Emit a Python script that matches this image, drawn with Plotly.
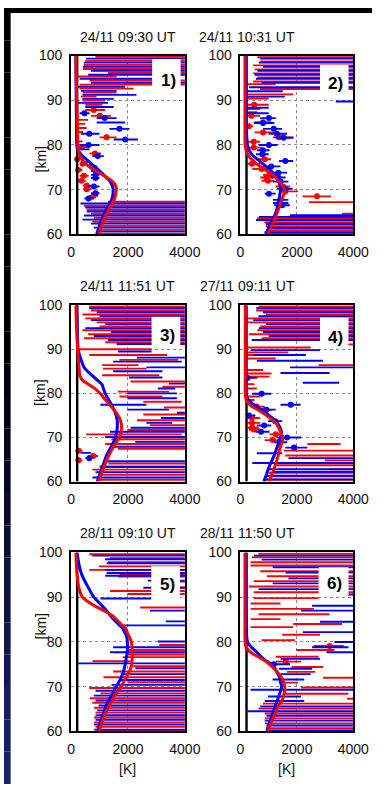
import plotly.graph_objects as go

# ---------------- data ----------------
TITLES = ["24/11 09:30 UT", "24/11 10:31 UT", "24/11 11:51 UT",
          "27/11 09:11 UT", "28/11 09:10 UT", "28/11 11:50 UT"]
LABELS = ["1)", "2)", "3)", "4)", "5)", "6)"]
X_TICKS = [0, 2000, 4000]
Y_TICKS = [60, 70, 80, 90, 100]
X_RANGE = [0, 4000]
Y_RANGE = [60, 100]
T_LINE = 215  # black vertical reference line (K)

# label boxes per panel: (x0, x1, y0, y1, text_x, text_y)
BOXES = [(2850, 3850, 92.3, 99.2, 3440, 94.4),
         (2820, 3830, 91.8, 97.9, 3380, 93.7),
         (2830, 3840, 90.3, 97.4, 3400, 93.2),
         (2820, 3830, 91.0, 97.2, 3360, 92.6),
         (2820, 3830, 89.6, 96.9, 3400, 92.8),
         (2770, 3830, 90.5, 96.7, 3330, 93.1)]

# smooth profiles (altitude km, temperature K)
C1_ALT = [60, 62, 64, 66, 68, 70, 71, 72, 73, 74, 75, 76, 77, 78, 79, 80, 85, 90, 95, 100]
C1_RED = [980, 1070, 1200, 1370, 1530, 1590, 1560, 1420, 1180, 930, 680, 480, 360, 290, 260, 240, 220, 200, 180, 170]
C1_BLUE = [900, 1000, 1120, 1280, 1440, 1480, 1440, 1350, 1200, 1040, 860, 680, 500, 340, 230, 200, 190, 180, 175, 170]

C2_ALT = [60, 62, 64, 66, 67, 68, 69, 70, 71, 72, 73, 74, 75, 76, 77, 78, 79, 80, 85, 90, 95, 100]
C2_RED = [975, 1120, 1250, 1370, 1420, 1480, 1540, 1570, 1480, 1340, 1200, 975, 750, 530, 360, 250, 190, 165, 160, 160, 160, 160]
C2_BLUE = [900, 1030, 1200, 1310, 1340, 1370, 1400, 1420, 1400, 1340, 1250, 1120, 940, 750, 560, 380, 300, 250, 200, 190, 190, 190]

C3_ALT = [60, 62, 64, 66, 68, 70, 72, 74, 76, 78, 80, 81, 82, 83, 84, 85, 86, 88, 90, 95, 100]
C3_RED = [980, 1080, 1200, 1330, 1500, 1700, 1780, 1730, 1540, 1280, 1020, 850, 620, 400, 310, 290, 280, 250, 230, 190, 170]
C3_BLUE = [920, 1030, 1140, 1250, 1420, 1560, 1620, 1620, 1530, 1370, 1200, 1140, 1090, 920, 750, 580, 450, 330, 250, 220, 200]

C4_ALT = [60, 62, 64, 66, 68, 69, 70, 71, 72, 73, 74, 75, 76, 77, 78, 79, 80, 85, 90, 95, 100]
C4_RED = [1010, 1140, 1250, 1340, 1420, 1480, 1500, 1440, 1370, 1290, 1120, 920, 690, 410, 250, 190, 170, 170, 170, 170, 170]
C4_BLUE = [830, 940, 1060, 1200, 1310, 1370, 1420, 1460, 1420, 1340, 1200, 1010, 800, 580, 360, 230, 190, 180, 180, 180, 180]

C5_ALT = [60, 62, 64, 66, 68, 70, 72, 74, 76, 78, 80, 81, 82, 83, 84, 85, 86, 87, 88, 89, 90, 92, 95, 97, 100]
C5_RED = [975, 1090, 1200, 1370, 1530, 1760, 1930, 2090, 2150, 2150, 2120, 2060, 1980, 1930, 1750, 1600, 1420, 1150, 850, 600, 400, 280, 210, 190, 170]
C5_BLUE = [940, 1030, 1140, 1250, 1420, 1590, 1760, 1870, 1930, 1980, 1980, 1960, 1900, 1820, 1660, 1500, 1370, 1250, 1100, 950, 800, 620, 380, 290, 210]

C6_ALT = [60, 62, 64, 66, 67, 68, 69, 70, 71, 72, 73, 74, 75, 76, 77, 78, 79, 80, 85, 90, 95, 100]
C6_RED = [975, 1090, 1230, 1370, 1480, 1530, 1570, 1570, 1530, 1460, 1340, 1200, 1030, 810, 530, 300, 190, 165, 160, 160, 160, 160]
C6_BLUE = [940, 1030, 1140, 1250, 1310, 1370, 1420, 1460, 1420, 1390, 1310, 1230, 1090, 860, 690, 530, 360, 250, 200, 190, 190, 190]

# individual estimates: (altitude km, lower K, upper K, centre K or None)
E1_RED = [
    (99.7, 860, 4500, None), (98.8, 500, 4500, None), (97.9, 450, 4500, None),
    (97.0, 420, 4500, None), (96.1, 1300, 4500, None), (95.3, 250, 1600, None),
    (94.4, 650, 4500, None), (93.5, 300, 4500, None), (92.6, 300, 2200, None),
    (91.7, 400, 1600, None), (90.8, 350, 900, None), (89.9, 400, 1200, None),
    (89.0, 500, 1100, None), (87.8, 500, 1200, 800), (86.5, 700, 1400, 1010),
    (85.6, 250, 600, None), (84.7, 250, 500, None), (83.8, 250, 550, None),
    (82.9, 250, 420, None), (81.7, 1000, 1600, 1250), (80.8, 230, 400, None),
    (79.5, 230, 600, 380), (78.1, 650, 1050, 840), (76.8, 120, 350, 213),
    (75.8, 300, 550, 415), (74.4, 150, 400, 250), (73.1, 300, 620, 450),
    (72.0, 200, 520, 360), (70.9, 420, 700, 550), (70.1, 420, 700, 550),
    (68.6, 630, 950, 780), (67.3, 1300, 4500, None), (66.4, 450, 4500, None),
    (65.5, 550, 4500, None), (64.6, 700, 4500, None), (63.7, 800, 4500, None),
    (62.8, 750, 4500, None), (61.9, 1000, 4500, None), (61.0, 900, 4500, None),
    (60.1, 1000, 4500, None),
]
E1_BLUE = [
    (99.3, 530, 4500, None), (98.4, 450, 4500, None), (97.5, 420, 4500, None),
    (96.6, 700, 4500, None), (95.7, 600, 4500, None), (94.8, 300, 2850, None),
    (93.9, 700, 4500, None), (93.0, 200, 1900, None), (92.1, 350, 1600, None),
    (91.2, 400, 2300, None), (90.3, 400, 1500, None), (89.4, 200, 1300, None),
    (88.5, 500, 1500, None), (87.1, 300, 650, 470), (86.0, 900, 1600, 1180),
    (85.0, 900, 1900, None), (83.6, 1350, 2050, 1700), (82.5, 350, 1000, 640),
    (81.2, 1500, 2350, 1900), (80.0, 300, 1000, 615), (79.0, 200, 650, None),
    (77.5, 750, 1150, 940), (76.2, 350, 700, None), (75.2, 550, 920, 720),
    (74.2, 700, 1030, 860), (73.3, 700, 1000, 860), (72.6, 700, 1000, 860),
    (70.7, 600, 1000, 800), (69.2, 700, 1000, 860), (68.0, 470, 800, 615),
    (66.9, 330, 4500, None), (66.0, 500, 4500, None), (65.1, 550, 4500, None),
    (64.2, 450, 4500, None), (63.3, 400, 4500, None), (62.4, 700, 4500, None),
    (61.5, 800, 4500, None), (60.6, 900, 4500, None),
]

E2_RED = [
    (99.6, 600, 4500, None), (98.7, 700, 4500, None), (97.8, 450, 4500, None),
    (96.9, 500, 4500, None), (96.0, 450, 4500, None), (95.1, 600, 4500, None),
    (94.2, 450, 4500, None), (93.6, 250, 1250, None), (92.5, 700, 4500, None),
    (91.3, 150, 1870, None), (90.4, 250, 1000, None), (89.0, 250, 1000, 490),
    (88.0, 200, 700, None), (87.3, 200, 600, None), (86.5, 200, 700, 390),
    (85.1, 500, 1100, 800), (84.2, 150, 450, 300), (82.8, 500, 1250, 800),
    (81.7, 1150, 1880, 1370), (80.7, 250, 700, 470), (79.4, 250, 750, 470),
    (76.8, 580, 1090, 860), (75.8, 250, 700, 410), (74.6, 420, 1090, 750),
    (73.3, 800, 1250, 1030), (72.7, 700, 1150, 920), (72.0, 750, 1200, 975),
    (70.7, 1250, 1750, 1510), (69.6, 1370, 2040, 1590), (68.5, 2200, 3210, 2710),
    (67.2, 2430, 4500, None), (64.6, 3600, 4500, None), (63.6, 600, 4500, None),
    (62.7, 850, 4500, None), (61.8, 900, 4500, None), (60.9, 950, 4500, None),
    (60.1, 1000, 4500, None),
]
E2_BLUE = [
    (99.3, 700, 4500, None), (98.4, 650, 4500, None), (97.5, 800, 4500, None),
    (96.6, 600, 4500, None), (95.7, 500, 4500, None), (94.8, 550, 4500, None),
    (93.9, 750, 4500, None), (92.9, 300, 4500, None), (92.0, 250, 1500, None),
    (90.8, 250, 1570, None), (89.7, 3380, 4500, None), (88.3, 250, 1000, None),
    (87.1, 200, 1000, None), (86.0, 700, 1250, 1010), (84.9, 470, 1200, 800),
    (83.6, 800, 1470, 1180), (82.5, 1000, 1650, 1290), (81.6, 1250, 1870, 1530),
    (80.0, 640, 1310, 1010), (78.8, 580, 1030, 800), (77.9, 550, 1000, 780),
    (76.4, 1370, 1870, 1590), (75.2, 800, 1420, 1090), (73.8, 1090, 1650, 1340),
    (72.7, 1090, 1600, 1340), (71.8, 1150, 1700, 1420), (70.2, 1300, 1850, 1570),
    (69.1, 860, 1250, 1010), (67.7, 1150, 1700, 1420), (67.0, 1150, 1700, 1420),
    (66.5, 1200, 1750, 1480), (64.3, 1760, 4500, None), (63.9, 650, 4500, None),
    (63.2, 550, 4500, None), (62.3, 900, 4500, None), (61.4, 950, 4500, None),
    (60.5, 850, 4500, None),
]

E3_RED = [
    (99.7, 640, 4500, None), (98.8, 700, 4500, None), (97.9, 400, 4500, None),
    (97.0, 500, 4500, None), (96.1, 900, 4500, None), (95.2, 1000, 4500, None),
    (94.3, 400, 4500, None), (93.4, 600, 4500, None), (92.5, 450, 4500, None),
    (91.6, 1200, 4500, None), (90.0, 300, 2830, None), (88.7, 640, 3380, None),
    (87.6, 1700, 3770, None), (86.4, 1090, 2370, None), (85.6, 1120, 2650, None),
    (84.1, 1090, 3100, None), (82.7, 2090, 4500, None), (81.5, 3210, 4500, None),
    (80.4, 1650, 3440, None), (79.3, 1700, 3210, None), (78.1, 2540, 3890, None),
    (76.8, 3270, 4500, None), (75.2, 2540, 4500, None), (73.9, 2320, 4500, None),
    (72.8, 2770, 4500, None), (71.7, 1980, 4500, None), (70.7, 530, 3890, None),
    (69.6, 1420, 4500, None), (68.5, 1200, 4500, None), (67.4, 1650, 4500, None),
    (67.0, 150, 400, 270), (65.8, 600, 950, 780), (64.8, 150, 400, 270),
    (64.1, 1310, 4500, None), (63.4, 1000, 4500, None), (62.7, 750, 4500, None),
    (61.5, 975, 4500, None), (60.4, 975, 4500, None),
]
E3_BLUE = [
    (99.3, 640, 4500, None), (98.4, 900, 4500, None), (97.5, 1000, 4500, None),
    (96.6, 700, 4500, None), (95.7, 1200, 4500, None), (94.8, 500, 4500, None),
    (93.9, 1400, 4500, None), (93.0, 800, 4500, None), (92.1, 1300, 4500, None),
    (91.2, 1600, 4500, None), (89.5, 1650, 2830, None), (88.1, 2320, 4500, None),
    (87.2, 1480, 3890, None), (85.9, 2650, 4500, None), (85.0, 1480, 3210, None),
    (83.6, 2040, 3210, None), (82.2, 3440, 4500, None), (81.1, 3050, 3660, None),
    (80.0, 1980, 3720, None), (78.9, 1980, 3720, None), (77.4, 1030, 2650, None),
    (76.3, 1980, 3440, None), (75.6, 3720, 4500, None), (74.4, 3160, 4500, None),
    (73.3, 2650, 3550, None), (72.2, 2090, 4500, None), (71.3, 1370, 4500, None),
    (70.1, 1200, 4500, None), (69.0, 2260, 4500, None), (67.9, 1480, 4500, None),
    (66.5, 350, 700, None), (65.3, 500, 750, 640), (64.6, 1200, 4500, None),
    (63.3, 1030, 4500, None), (62.1, 860, 4500, None), (60.9, 750, 4500, None),
]

E4_RED = [
    (99.7, 640, 4500, None), (98.8, 560, 4500, None), (97.9, 900, 4500, None),
    (97.0, 250, 4500, None), (96.1, 250, 4500, None), (95.2, 700, 4500, None),
    (94.3, 600, 4500, None), (93.4, 300, 4500, None), (92.5, 750, 4500, None),
    (91.1, 3800, 4500, None), (90.4, 250, 2490, None), (89.3, 250, 1700, None),
    (88.7, 250, 810, None), (87.9, 250, 1250, None), (86.4, 2770, 4500, None),
    (85.3, 250, 810, None), (84.5, 200, 1100, None), (83.8, 190, 1030, None),
    (82.1, 190, 500, None), (81.1, 190, 580, None), (79.3, 190, 700, None),
    (78.5, 150, 500, None), (77.0, 360, 860, 580), (76.2, 650, 1100, 860),
    (74.4, 250, 700, 410), (73.3, 250, 700, 410), (72.2, 250, 650, 410),
    (71.8, 300, 700, 470), (70.7, 1030, 1480, 1250), (69.4, 860, 1420, 1140),
    (68.5, 2370, 3550, None), (67.0, 1530, 4500, None), (65.9, 1590, 4500, None),
    (64.8, 2990, 4500, None), (63.7, 1200, 4500, None), (62.8, 3160, 4500, None),
    (62.0, 1000, 4500, None), (61.2, 900, 4500, None), (60.4, 850, 4500, None),
]
E4_BLUE = [
    (99.3, 560, 4500, None), (98.4, 800, 4500, None), (97.5, 640, 4500, None),
    (96.6, 450, 4500, None), (95.7, 900, 4500, None), (94.8, 650, 4500, None),
    (93.9, 800, 4500, None), (93.0, 1000, 4500, None), (92.1, 400, 4500, None),
    (89.8, 360, 2820, None), (88.7, 470, 2320, None), (87.4, 580, 2930, None),
    (85.9, 1760, 4500, None), (84.6, 1420, 3160, None), (83.5, 150, 600, 250),
    (82.4, 2210, 3500, None), (79.9, 420, 1090, 750), (77.4, 1420, 2130, 1780),
    (76.3, 640, 1250, 920), (75.0, 190, 530, 300), (73.7, 970, 1480, 1230),
    (72.7, 580, 1090, 840), (71.3, 530, 1030, 730), (70.0, 1310, 2150, 1650),
    (68.9, 1200, 1650, 1400), (67.7, 1590, 2370, 1900), (66.4, 580, 1480, None),
    (65.3, 1700, 4500, None), (64.2, 420, 4500, None), (62.8, 1030, 4500, None),
    (62.2, 1140, 4500, None), (61.3, 900, 4500, None), (60.5, 850, 4500, None),
]

E5_RED = [
    (99.6, 640, 4500, None), (98.7, 1370, 4500, None), (97.8, 1300, 4500, None),
    (96.9, 980, 4500, None), (96.1, 640, 4500, None), (95.2, 1700, 4500, None),
    (94.6, 1650, 4500, None), (93.5, 2900, 4500, None), (92.2, 2900, 4500, None),
    (91.4, 1370, 4500, None), (90.7, 1980, 4500, None), (87.7, 2430, 4500, None),
    (79.3, 3100, 4500, None), (78.2, 1930, 4500, None), (77.2, 1980, 4500, None),
    (76.6, 1820, 4500, None), (75.7, 750, 2090, None), (74.6, 2090, 4500, None),
    (73.4, 1480, 4500, None), (72.1, 1140, 4500, None), (71.0, 1980, 4500, None),
    (69.7, 640, 4500, None), (68.5, 1030, 4500, None), (67.4, 660, 4500, None),
    (66.4, 750, 4500, None), (65.3, 810, 4500, None), (64.2, 860, 4500, None),
    (63.1, 810, 4500, None), (62.0, 810, 4500, None), (61.0, 860, 4500, None),
    (60.2, 900, 4500, None),
]
E5_BLUE = [
    (99.3, 750, 4500, None), (98.5, 1200, 4500, None), (97.6, 1250, 4500, None),
    (96.1, 1200, 4500, None), (95.4, 1250, 4500, None), (94.8, 1200, 4500, None),
    (93.7, 2700, 4500, None), (92.1, 2540, 4500, None), (89.7, 1030, 2820, None),
    (87.0, 2770, 4500, None), (84.6, 3330, 4500, None), (83.7, 1650, 4500, None),
    (80.1, 3050, 4500, None), (78.8, 1480, 4500, None), (77.7, 1370, 4500, None),
    (75.2, 250, 4500, None), (74.1, 2260, 4500, None), (72.8, 1760, 4500, None),
    (71.5, 1700, 4500, None), (70.4, 1420, 4500, None), (69.1, 860, 4500, None),
    (68.0, 800, 4500, None), (66.9, 860, 4500, None), (65.8, 970, 4500, None),
    (64.7, 920, 4500, None), (63.6, 860, 4500, None), (62.6, 860, 4500, None),
    (61.5, 810, 4500, None), (60.4, 810, 4500, None),
]

E6_RED = [
    (99.7, 640, 4500, None), (98.9, 400, 4500, None), (97.8, 360, 4500, None),
    (97.1, 360, 4500, None), (95.8, 700, 4500, None), (94.7, 940, 4500, None),
    (93.6, 470, 4500, None), (92.4, 300, 4500, None), (91.1, 470, 4500, None),
    (89.8, 470, 2770, None), (88.6, 360, 1420, None), (87.4, 360, 2600, None),
    (86.2, 640, 3160, None), (85.1, 360, 1420, None), (84.0, 1870, 3600, None),
    (83.3, 360, 1870, None), (81.6, 1480, 2820, None), (80.4, 750, 1930, None),
    (79.1, 2600, 3660, 3160), (78.2, 1980, 3330, None), (76.7, 1250, 2770, None),
    (75.6, 1250, 2150, 1610), (74.4, 1810, 2930, None), (73.3, 1650, 2650, None),
    (72.0, 2930, 4500, None), (70.9, 1420, 2040, None), (69.8, 2150, 4500, None),
    (68.4, 1530, 3830, None), (67.3, 3780, 4500, None), (66.2, 800, 4500, None),
    (65.1, 640, 4500, None), (64.0, 860, 4500, None), (62.9, 860, 4500, None),
    (61.8, 860, 4500, None), (60.7, 920, 4500, None),
]
E6_BLUE = [
    (99.3, 470, 4500, None), (98.4, 750, 4500, None), (96.7, 1140, 4500, None),
    (95.5, 1600, 4500, None), (94.2, 1700, 4500, None), (93.1, 1140, 4500, None),
    (91.8, 640, 4500, None), (90.6, 3800, 4500, None), (88.1, 2540, 4500, None),
    (87.0, 2150, 4500, None), (84.5, 2820, 4500, None), (82.2, 2210, 4500, None),
    (80.0, 3330, 4500, None), (78.8, 2540, 3830, None), (77.7, 3050, 4500, None),
    (76.2, 1420, 2820, None), (75.0, 980, 1760, 1180), (74.0, 1370, 2540, None),
    (72.8, 1420, 2490, None), (71.6, 1140, 2260, None), (69.3, 360, 4500, None),
    (67.8, 975, 2150, None), (66.8, 860, 2260, None), (65.6, 700, 4500, None),
    (64.5, 250, 4500, None), (63.5, 920, 4500, None), (62.4, 860, 4500, None),
    (61.3, 920, 4500, None), (60.2, 920, 4500, None),
]

CURVES = [(C1_ALT, C1_RED, C1_BLUE), (C2_ALT, C2_RED, C2_BLUE), (C3_ALT, C3_RED, C3_BLUE),
          (C4_ALT, C4_RED, C4_BLUE), (C5_ALT, C5_RED, C5_BLUE), (C6_ALT, C6_RED, C6_BLUE)]
ESTIMATES = [(E1_RED, E1_BLUE), (E2_RED, E2_BLUE), (E3_RED, E3_BLUE),
             (E4_RED, E4_BLUE), (E5_RED, E5_BLUE), (E6_RED, E6_BLUE)]

# ---------------- layout ----------------
W, H = 388, 792
COLS = [(70.7, 190.7), (249.3, 368.3)]
ROWS = [(48.5, 231.0), (303.3, 483.3), (555.7, 738.3)]
RED = "#ff0000"
BLUE = "#0000ff"
FONT = "Liberation Sans, Arial, sans-serif"

fig = go.Figure()
layout = dict(width=W, height=H, margin=dict(l=0, r=0, t=0, b=0),
              paper_bgcolor="white", plot_bgcolor="white", showlegend=False)
annotations = []
shapes = []


def bar_xy(est):
    xs, ys = [], []
    for alt, lo, hi, _ in est:
        xs += [lo, hi, None]
        ys += [alt, alt, None]
    return xs, ys


for i in range(6):
    r, c = divmod(i, 2)
    x0p, x1p = COLS[c]
    y0p, y1p = ROWS[r]
    xa = "x" if i == 0 else f"x{i+1}"
    ya = "y" if i == 0 else f"y{i+1}"
    xkey = "xaxis" if i == 0 else f"xaxis{i+1}"
    ykey = "yaxis" if i == 0 else f"yaxis{i+1}"
    layout[xkey] = dict(domain=[x0p / W, x1p / W], range=X_RANGE, anchor=ya,
                        tickvals=X_TICKS, ticktext=[str(v) for v in X_TICKS],
                        showgrid=True, gridcolor="#8a8a8a", griddash="dot", gridwidth=1,
                        zeroline=False, showline=True, linecolor="black", linewidth=1.8,
                        mirror=True, ticks="", ticklabelstandoff=4,
                        tickfont=dict(family=FONT, size=14, color="#111"), fixedrange=True)
    layout[ykey] = dict(domain=[1 - y1p / H, 1 - y0p / H], range=Y_RANGE, anchor=xa,
                        tickvals=Y_TICKS, ticktext=[str(v) for v in Y_TICKS],
                        showgrid=True, gridcolor="#8a8a8a", griddash="dot", gridwidth=1,
                        zeroline=False, showline=True, linecolor="black", linewidth=1.8,
                        mirror=True, ticks="", ticklabelstandoff=4,
                        tickfont=dict(family=FONT, size=14, color="#111"), fixedrange=True)

    est_red, est_blue = ESTIMATES[i]
    for est, col in ((est_red, RED), (est_blue, BLUE)):
        bx, by = bar_xy(est)
        fig.add_trace(go.Scatter(x=bx, y=by, mode="lines", xaxis=xa, yaxis=ya,
                                 line=dict(color=col, width=1.9), hoverinfo="skip"))
        mk = [(a, v) for a, lo, hi, v in est if v is not None]
        if mk:
            fig.add_trace(go.Scatter(x=[v for a, v in mk], y=[a for a, v in mk], mode="markers",
                                     xaxis=xa, yaxis=ya,
                                     marker=dict(color=col, size=6, line=dict(width=0))))

    # black reference line
    fig.add_trace(go.Scatter(x=[T_LINE, T_LINE], y=Y_RANGE, mode="lines", xaxis=xa, yaxis=ya,
                             line=dict(color="black", width=2.4)))
    alt, tred, tblue = CURVES[i]
    fig.add_trace(go.Scatter(x=tblue, y=alt, mode="lines", xaxis=xa, yaxis=ya,
                             line=dict(color=BLUE, width=3, shape="spline", smoothing=0.8)))
    fig.add_trace(go.Scatter(x=tred, y=alt, mode="lines", xaxis=xa, yaxis=ya,
                             line=dict(color=RED, width=3, shape="spline", smoothing=0.8)))

    bx0, bx1, by0, by1, tx, ty = BOXES[i]
    shapes.append(dict(type="rect", xref=xa, yref=ya, x0=bx0, x1=bx1, y0=by0, y1=by1,
                       fillcolor="white", line=dict(width=0), layer="above"))
    annotations.append(dict(xref=xa, yref=ya, x=tx, y=ty, text=f"<b>{LABELS[i]}</b>",
                            showarrow=False, font=dict(family=FONT, size=17, color="black")))
    # panel title
    annotations.append(dict(xref="paper", yref="paper", x=(x0p + x1p) / 2 / W, y=1 - y0p / H,
                            yshift=19, text=TITLES[i], showarrow=False, yanchor="middle",
                            font=dict(family=FONT, size=14, color="#111")))
    if c == 0:
        annotations.append(dict(xref="paper", yref="paper", x=28 / W, y=1 - (y0p + y1p) / 2 / H,
                                text="[km]", textangle=-90, showarrow=False,
                                font=dict(family=FONT, size=14, color="#111")))
    if r == 2:
        annotations.append(dict(xref="paper", yref="paper", x=(x0p + x1p) / 2 / W, y=1 - 777 / H,
                                text="[K]", showarrow=False, yanchor="middle",
                                font=dict(family=FONT, size=14, color="#111")))

# slide background: black top band and left band with blue glow toward the bottom
shapes.append(dict(type="rect", xref="paper", yref="paper", x0=0, x1=1, y0=1 - 5 / H, y1=1,
                   fillcolor="black", line=dict(width=0), layer="below"))
N = 24
for k in range(N):
    top = k * H / N
    bot = (k + 1) * H / N
    f = max(0.0, (top - 330) / (H - 330))
    col = f"rgb({int(28 * f)},{int(36 * f)},{int(120 * f)})"
    shapes.append(dict(type="rect", xref="paper", yref="paper", x0=0, x1=7 / W,
                       y0=1 - bot / H, y1=1 - top / H, fillcolor=col,
                       line=dict(width=0), layer="below"))

layout["annotations"] = annotations
layout["shapes"] = shapes
fig.update_layout(**layout)
fig.write_html("out.html")
